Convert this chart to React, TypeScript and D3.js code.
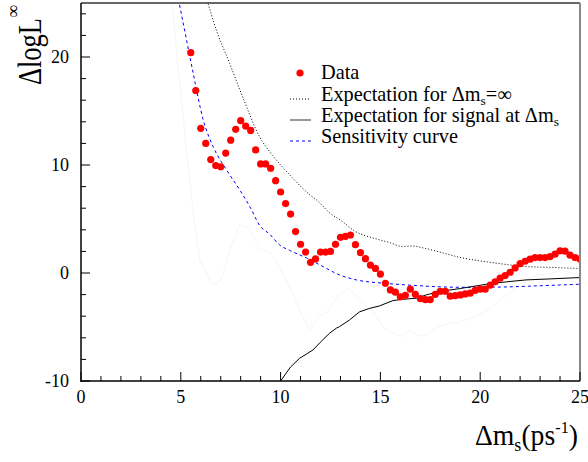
import React from "react";
import * as d3 from "d3";

const dataX = [5.5,5.75,6,6.25,6.5,6.75,7,7.25,7.5,7.75,8,8.25,8.5,8.75,9,9.25,9.5,9.75,10,
  10.25,10.5,10.75,11,11.25,11.5,11.75,12,12.25,12.5,12.75,13,13.25,13.5,13.75,14,14.25,14.5,14.75,15,
  15.25,15.5,15.75,16,16.25,16.5,16.75,17,17.25,17.5,17.75,18,18.25,18.5,18.75,19,19.25,19.5,19.75,20,
  20.25,20.5,20.75,21,21.25,21.5,21.75,22,22.25,22.5,22.75,23,23.25,23.5,23.75,24,24.25,24.5,24.75,25];
const dataY = [20.4,16.9,13.4,12.0,10.5,9.95,9.83,11.1,12.3,13.3,14.1,13.6,13.2,11.4,10.1,10.1,9.7,8.55,7.5,
  6.43,5.46,3.84,2.66,1.94,0.99,1.3,1.94,1.94,2.0,2.66,3.3,3.4,3.52,2.62,1.89,1.33,0.73,0.42,-0.1,
  -0.95,-1.57,-1.78,-2.21,-2.06,-1.5,-1.97,-2.37,-2.46,-2.46,-1.97,-1.69,-1.69,-2.15,-2.09,-2.03,-1.94,-1.87,-1.6,-1.5,
  -1.5,-1.13,-0.82,-0.48,-0.24,0.07,0.47,0.87,1.09,1.28,1.43,1.43,1.43,1.52,1.74,2.05,2.02,1.65,1.43,1.3];

// Expectation for Δms = ∞ (dotted)
const infX = [6.2,6.8,7.45,8.1,8.95,9.6,10.6,11.3,11.9,12.5,13.0,13.7,14.8,15.5,16.1,16.6,17.2,17.95,18.95,20.62,22.29,23.5,25];
const infY = [26,22.4,19.4,16.3,12.6,10.9,8.8,7.5,6.6,5.5,4.9,3.9,3.15,2.8,2.45,2.5,2.3,1.95,1.46,0.96,0.6,0.52,0.42];

// Expectation for signal at Δms (solid)
const sigX = [10.0,10.5,10.95,11.3,11.62,12.0,12.45,12.8,12.95,13.45,13.95,14.45,14.95,15.62,16.12,16.79,17.29,17.95,18.95,20.62,22.29,23.45,25];
const sigY = [-10,-8.7,-7.9,-7.5,-7.13,-6.4,-5.58,-5.1,-4.97,-4.35,-3.6,-3.28,-3.05,-2.56,-2.43,-2.34,-2.03,-1.72,-1.45,-0.95,-0.64,-0.55,-0.42];

// Sensitivity curve (blue dashed)
const senX = [4.7,5.2,5.62,6.12,6.62,7.29,7.95,8.5,8.95,9.45,9.95,10.45,11.29,12.12,12.95,13.8,15.2,16.28,18.95,21,23,25];
const senY = [27,22.4,18.5,14.2,11.7,9.55,7.7,6.0,4.4,3.6,2.6,2.1,1.4,0.6,-0.18,-0.64,-0.95,-1.1,-1.32,-1.3,-1.18,-1.04];

// faint grey curve
const faintX = [4.5,4.87,5.33,5.6,5.95,6.53,6.78,7.03,7.45,7.95,8.45,8.95,9.45,9.95,10.45,10.95,11.45,11.95,12.28,12.95,13.45,13.95,14.62,15.12,15.62,16.03,16.45,16.95,17.45,17.79,18.45,18.95,19.95,20.62,21.45,22.29,22.95,23.62,24.12,24.79,25];
const faintY = [26,19.1,10.5,6.0,1.2,-0.95,-1.0,-0.6,2.1,4.46,4.15,2.14,1.98,0.6,-1.26,-3.42,-5.27,-3.88,-3.73,-1.9,-1.41,-2.5,-3.58,-5.0,-5.6,-5.87,-5.31,-5.87,-5.62,-5.0,-4.68,-4.55,-3.88,-3.11,-1.87,-0.64,-0.18,0,0.29,-0.18,-0.2];

const xMajor = [0,5,10,15,20,25];
const xMinor = [1,2,3,4,6,7,8,9,11,12,13,14,16,17,18,19,21,22,23,24];
const yMajor = [-10,0,10,20];
const yMinor = [-8,-6,-4,-2,2,4,6,8,12,14,16,18,22,24];

const legendLabels = ["Data", "Expectation for Δm", "Expectation for signal at Δm", "Sensitivity curve"];

const L = 81, R = 580, T = 3, B = 381;
const FONT = '"Liberation Serif", "Times New Roman", "DejaVu Serif", serif';
const LF = 20.3;

export default function App() {
  const x = d3.scaleLinear().domain([0, 25]).range([L, R]);
  const y = d3.scaleLinear().domain([-10, 25]).range([B, T]);
  const mk = (xs: number[], ys: number[], curve: any) =>
    d3.line<number>().x((_, i) => x(xs[i])).y((v) => y(v)).curve(curve)(ys) || "";
  const ts = { fontFamily: FONT };

  return (
    <svg width={588} height={462} style={{ position: "absolute", left: 0, top: 0, background: "#fff", fontFamily: FONT }}>
      <defs>
        <clipPath id="plotclip"><rect x={L} y={T} width={R - L} height={B - T} /></clipPath>
      </defs>
      <rect x={0} y={0} width={588} height={462} fill="#fff" />
      <g clipPath="url(#plotclip)" fill="none">
        <path d={mk(faintX, faintY, d3.curveLinear)} stroke="#f5f5f5" strokeWidth={1} />
        <path d={mk(senX, senY, d3.curveMonotoneX)} stroke="#0000ff" strokeWidth={1} strokeDasharray="3 3" />
        <path d={mk(infX, infY, d3.curveMonotoneX)} stroke="#000" strokeWidth={1} strokeDasharray="1 2" />
        <path d={mk(sigX, sigY, d3.curveLinear)} stroke="#000" strokeWidth={1} />
        {dataY.map((v, i) => (
          <circle key={i} cx={x(dataX[i])} cy={y(v)} r={3.6} fill="#ff0000" />
        ))}
      </g>
      {/* frame */}
      <line x1={L} x2={R} y1={T} y2={T} stroke="#333" strokeWidth={1.5} />
      <line x1={R} x2={R} y1={T} y2={B} stroke="#888" strokeWidth={2} />
      <line x1={L} x2={L} y1={T} y2={B + 1} stroke="#000" strokeWidth={1.5} />
      <line x1={L} x2={R} y1={B} y2={B} stroke="#000" strokeWidth={1.5} />
      {/* x ticks */}
      {xMajor.map((t) => (
        <g key={"xm" + t}>
          <line x1={x(t)} x2={x(t)} y1={B} y2={B - 9} stroke="#000" strokeWidth={1} />
          <text x={x(t)} y={403} fontSize={18} textAnchor="middle" style={ts}>{t}</text>
        </g>
      ))}
      {xMinor.map((t) => (
        <line key={"xn" + t} x1={x(t)} x2={x(t)} y1={B} y2={B - 5} stroke="#000" strokeWidth={1} />
      ))}
      {yMajor.map((t) => (
        <g key={"ym" + t}>
          <line x1={L} x2={L + 9} y1={y(t)} y2={y(t)} stroke="#000" strokeWidth={1} />
          <text x={69} y={y(t) + 6} fontSize={18} textAnchor="end" style={ts}>{t}</text>
        </g>
      ))}
      {yMinor.map((t) => (
        <line key={"yn" + t} x1={L} x2={L + 5} y1={y(t)} y2={y(t)} stroke="#000" strokeWidth={1} />
      ))}
      {/* axis titles */}
      <text transform="translate(41,85) rotate(-90)" fontSize={34} textLength={67} lengthAdjust="spacingAndGlyphs" style={ts}>ΔlogL</text>
      <text transform="translate(19,18) rotate(-90)" fontSize={18} style={ts}>∞</text>
      <text x={475} y={445} fontSize={29} textLength={103} lengthAdjust="spacingAndGlyphs" style={ts}>
        Δm<tspan fontSize={19} dy={6}>s</tspan><tspan dy={-6}>(ps</tspan><tspan fontSize={17} dy={-12}>-1</tspan><tspan dy={12}>)</tspan>
      </text>
      {/* legend */}
      <circle cx={300} cy={73} r={3.6} fill="#ff0000" />
      <text x={321} y={79} fontSize={LF} style={ts}>{legendLabels[0]}</text>
      <line x1={290} x2={311} y1={99} y2={99} stroke="#000" strokeWidth={1} strokeDasharray="1 2" />
      <text x={321} y={101} fontSize={LF} style={ts}>{legendLabels[1]}<tspan fontSize={13.5} dy={4}>s</tspan><tspan dy={-4}>=∞</tspan></text>
      <line x1={290} x2={311} y1={120} y2={120} stroke="#555" strokeWidth={1.2} />
      <text x={321} y={122} fontSize={LF} style={ts}>{legendLabels[2]}<tspan fontSize={13.5} dy={4}>s</tspan></text>
      <line x1={290} x2={311} y1={141} y2={141} stroke="#0000ff" strokeWidth={1} strokeDasharray="3 3" />
      <text x={321} y={143} fontSize={LF} style={ts}>{legendLabels[3]}</text>
    </svg>
  );
}
